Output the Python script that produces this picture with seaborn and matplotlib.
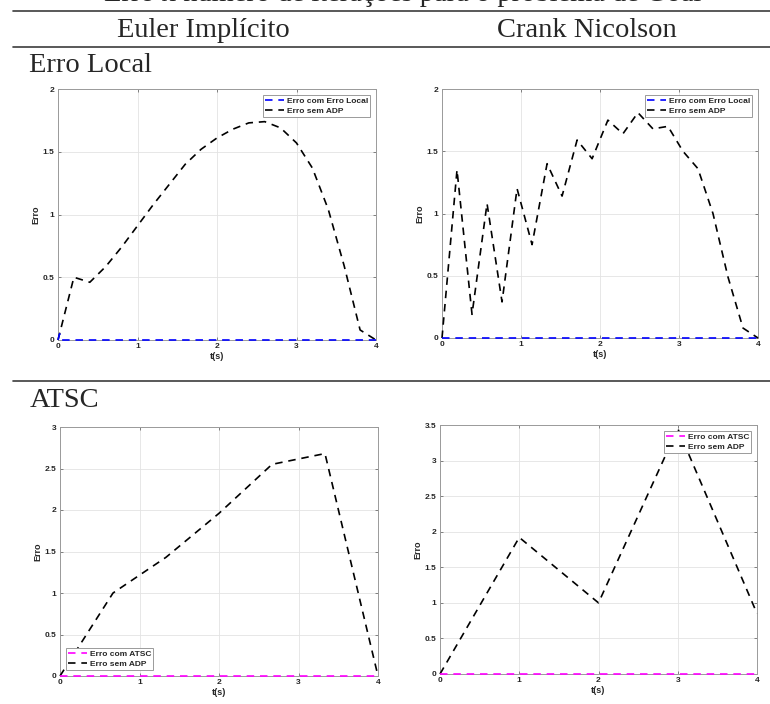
import matplotlib
matplotlib.use("Agg")
import matplotlib.pyplot as plt
import seaborn as sns
from matplotlib.lines import Line2D
from matplotlib.ticker import FuncFormatter

# Estilo geral
sns.set_style("whitegrid")
plt.rcParams['font.family'] = ['Liberation Sans', 'DejaVu Sans']

# ---------------------------------------------------------
# DADOS
# ---------------------------------------------------------
# Euler Implícito - Erro Local
t_euler_local = [0.0, 0.2, 0.4, 0.6, 0.8, 1.0, 1.2, 1.4, 1.6, 1.8, 2.0,
                 2.2, 2.4, 2.6, 2.8, 3.0, 3.2, 3.4, 3.6, 3.8, 4.0]
erro_euler_sem_adp = [0.0, 0.50, 0.46, 0.585, 0.74, 0.91, 1.08, 1.24, 1.40, 1.52, 1.61,
                      1.68, 1.73, 1.74, 1.69, 1.57, 1.37, 1.04, 0.59, 0.08, 0.0]
t_euler_local_com = [0.0, 0.02, 0.05, 4.0]
erro_euler_local_com = [0.0, 0.05, 0.0, 0.0]

# Crank Nicolson - Erro Local
t_cn_local = [0.0, 0.19, 0.38, 0.57, 0.76, 0.95, 1.14, 1.33, 1.52, 1.71, 1.90,
              2.10, 2.29, 2.48, 2.67, 2.86, 3.05, 3.24, 3.43, 3.62, 3.81, 4.0]
erro_cn_sem_adp = [0.0, 1.35, 0.19, 1.08, 0.29, 1.20, 0.75, 1.40, 1.14, 1.59, 1.44,
                   1.75, 1.64, 1.81, 1.68, 1.70, 1.50, 1.36, 1.00, 0.49, 0.08, 0.0]
t_cn_local_com = [0.0, 4.0]
erro_cn_local_com = [0.0, 0.0]

# Euler Implícito - ATSC
t_euler_atsc = [0.0, 0.667, 1.333, 2.0, 2.667, 3.333, 4.0]
erro_euler_atsc_sem = [0.0, 1.0, 1.43, 1.96, 2.55, 2.68, 0.0]
t_euler_atsc_com = [0.0, 4.0]
erro_euler_atsc_com = [0.0, 0.0]

# Crank Nicolson - ATSC
t_cn_atsc = [0.0, 1.0, 2.0, 3.0, 4.0]
erro_cn_atsc_sem = [0.0, 1.92, 1.0, 3.45, 0.85]
t_cn_atsc_com = [0.0, 4.0]
erro_cn_atsc_com = [0.0, 0.0]

titulo = "Erro x número de iterações para o problema de Goal"
colunas = ["Euler Implícito", "Crank Nicolson"]
linhas = ["Erro Local", "ATSC"]

# ---------------------------------------------------------
# FIGURA
# ---------------------------------------------------------
W, H = 770, 704
fig = plt.figure(figsize=(W / 100, H / 100), dpi=100)


def eixo(l, t, r, b):
    return fig.add_axes([l / W, 1 - b / H, (r - l) / W, (b - t) / H])


def fmt(v, pos):
    return "{:g}".format(v)


def painel(ax, t_com, e_com, t_sem, e_sem, cor, rotulo, ymax, yticks, loc):
    sns.lineplot(x=t_com, y=e_com, ax=ax, color=cor, linestyle=(0, (4.5, 3.5)),
                 linewidth=1.2, sort=False, label=rotulo, clip_on=False, zorder=4)
    sns.lineplot(x=t_sem, y=e_sem, ax=ax, color="black", linestyle=(0, (4.5, 3.5)),
                 linewidth=1.2, sort=False, label="Erro sem ADP", clip_on=False, zorder=3)
    ax.set_xlim(0, 4)
    ax.set_ylim(0, ymax)
    ax.set_xticks([0, 1, 2, 3, 4])
    ax.set_yticks(yticks)
    ax.xaxis.set_major_formatter(FuncFormatter(fmt))
    ax.yaxis.set_major_formatter(FuncFormatter(fmt))
    ax.grid(True, color="#e3e3e3", linewidth=0.6)
    for s in ax.spines.values():
        s.set_visible(True)
        s.set_color("#9a9a9a")
        s.set_linewidth(0.7)
    ax.tick_params(direction="in", length=2.5, width=0.5, color="#555555",
                   labelsize=6, labelcolor="#262626", pad=2.5,
                   top=True, right=True, bottom=True, left=True)
    for lab in ax.get_xticklabels() + ax.get_yticklabels():
        lab.set_fontweight("bold")
    ax.set_xlabel("t(s)", fontsize=6.5, fontweight="bold", color="#262626", labelpad=1)
    ax.set_ylabel("Erro", fontsize=6.5, fontweight="bold", color="#262626", labelpad=1.5)
    leg = ax.legend(loc=loc, prop={"size": 6, "weight": "bold"}, fancybox=False,
                    frameon=True, edgecolor="#9a9a9a", framealpha=1,
                    handlelength=2.3, handletextpad=0.3, borderpad=0.25,
                    labelspacing=0.25, borderaxespad=0.7)
    leg.get_frame().set_linewidth(0.7)


ax1 = eixo(58, 89, 376, 340)
painel(ax1, t_euler_local_com, erro_euler_local_com, t_euler_local, erro_euler_sem_adp,
       "blue", "Erro com Erro Local", 2, [0, 0.5, 1, 1.5, 2], "upper right")

ax2 = eixo(442, 89, 758, 338)
painel(ax2, t_cn_local_com, erro_cn_local_com, t_cn_local, erro_cn_sem_adp,
       "blue", "Erro com Erro Local", 2, [0, 0.5, 1, 1.5, 2], "upper right")

ax3 = eixo(60, 427, 378, 676)
painel(ax3, t_euler_atsc_com, erro_euler_atsc_com, t_euler_atsc, erro_euler_atsc_sem,
       "magenta", "Erro com ATSC", 3, [0, 0.5, 1, 1.5, 2, 2.5, 3], "lower left")

ax4 = eixo(440, 425, 757, 674)
painel(ax4, t_cn_atsc_com, erro_cn_atsc_com, t_cn_atsc, erro_cn_atsc_sem,
       "magenta", "Erro com ATSC", 3.5, [0, 0.5, 1, 1.5, 2, 2.5, 3, 3.5], "upper right")

# ---------------------------------------------------------
# TABELA (títulos e linhas)
# ---------------------------------------------------------
serif = {"family": ["Liberation Serif", "DejaVu Serif"], "size": 20.5}

# título cortado no topo, como na imagem original
fig.text(0.523, 1 - 1 / H, titulo, ha="center", va="baseline", **serif)
fig.text(203 / W, 1 - 37 / H, colunas[0], ha="center", va="baseline", **serif)
fig.text(587 / W, 1 - 37 / H, colunas[1], ha="center", va="baseline", **serif)
fig.text(29 / W, 1 - 72 / H, linhas[0], ha="left", va="baseline", **serif)
fig.text(30 / W, 1 - 407 / H, linhas[1], ha="left", va="baseline", **serif)

for y in [10.5, 47, 381]:
    fig.add_artist(Line2D([13 / W, 1], [1 - y / H, 1 - y / H], color="#3c3c3c",
                          linewidth=1.2, transform=fig.transFigure))

fig.savefig("out.png", dpi=100)
